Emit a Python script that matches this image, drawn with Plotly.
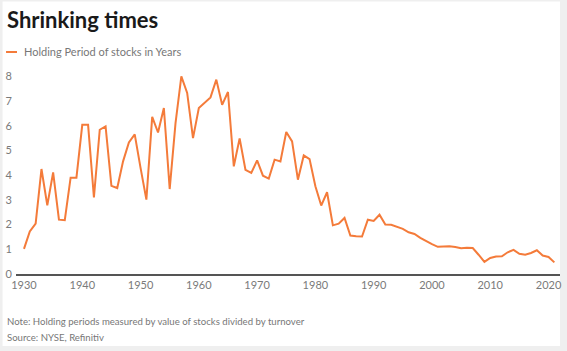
import plotly.graph_objects as go

years = list(range(1930, 2022))
holding_years = [
    1.02, 1.72, 2.04, 4.25, 2.78, 4.11, 2.20, 2.18, 3.90, 3.90,
    6.04, 6.04, 3.10, 5.84, 5.98, 3.57, 3.48, 4.56, 5.33, 5.65,
    4.30, 3.01, 6.36, 5.73, 6.72, 3.44, 6.11, 8.00, 7.33, 5.50,
    6.72, 6.92, 7.15, 7.87, 6.85, 7.37, 4.36, 5.49, 4.22, 4.09,
    4.60, 3.98, 3.86, 4.63, 4.56, 5.75, 5.37, 3.82, 4.80, 4.65,
    3.55, 2.77, 3.31, 1.97, 2.04, 2.27, 1.56, 1.53, 1.52, 2.20,
    2.15, 2.40, 2.00, 1.99, 1.90, 1.83, 1.69, 1.62, 1.46, 1.32,
    1.21, 1.10, 1.12, 1.12, 1.09, 1.04, 1.06, 1.05, 0.78, 0.49,
    0.65, 0.71, 0.72, 0.88, 0.98, 0.82, 0.78, 0.85, 0.96, 0.75,
    0.69, 0.47,
]
x_ticks = [1930, 1940, 1950, 1960, 1970, 1980, 1990, 2000, 2010, 2020]
y_ticks = [0, 1, 2, 3, 4, 5, 6, 7, 8]

title_text = "Shrinking times"
series_name = "Holding Period of stocks in Years"
note_text = "Note: Holding periods measured by value of stocks divided by turnover"
source_text = "Source: NYSE, Refinitiv"

ORANGE = "#F47B3A"
FONT = "Lato"

W, H = 567, 351
ML, MR, MT, MB = 16, 5, 69, 77
PW = W - ML - MR
PH = H - MT - MB

def px_x(px):
    return (px - ML) / PW

def px_y(py):
    return (H - MB - py) / PH

fig = go.Figure()
fig.add_trace(go.Scatter(
    x=years, y=holding_years, mode="lines", name=series_name,
    line=dict(color=ORANGE, width=2), showlegend=False,
))

fig.update_layout(
    width=W, height=H,
    margin=dict(l=ML, r=MR, t=MT, b=MB),
    paper_bgcolor="#efefef",
    plot_bgcolor="rgba(0,0,0,0)",
    font=dict(family=FONT, color="#6b6b6b", size=11),
    xaxis=dict(
        range=[1928.63, 2021.97], tickvals=x_ticks, ticktext=[str(t) for t in x_ticks],
        showgrid=False, zeroline=False, showline=True, linecolor="#555555", linewidth=1.5,
        ticks="", tickfont=dict(size=11, color="#7a7a7a"),
    ),
    yaxis=dict(
        range=[0, 8.3], tickvals=y_ticks, showgrid=False, zeroline=False,
        showline=False, ticks="", tickfont=dict(size=11, color="#7a7a7a"),
        ticklabelstandoff=3,
    ),
    shapes=[
        dict(type="rect", xref="paper", yref="paper",
             x0=px_x(2.5), x1=px_x(562), y0=px_y(346), y1=px_y(1.5),
             fillcolor="white", line=dict(width=0), layer="below"),
        dict(type="line", xref="paper", yref="paper",
             x0=px_x(6), x1=px_x(17), y0=px_y(52), y1=px_y(52),
             line=dict(color=ORANGE, width=2)),
    ],
    annotations=[
        dict(text="<b>" + title_text + "</b>", xref="paper", yref="paper",
             x=px_x(5), y=px_y(19), xanchor="left", yanchor="middle",
             showarrow=False, font=dict(family=FONT, size=22, color="#1a1a1a")),
        dict(text=series_name, xref="paper", yref="paper",
             x=px_x(22), y=px_y(52), xanchor="left", yanchor="middle",
             showarrow=False, font=dict(family=FONT, size=11, color="#777777")),
        dict(text=note_text, xref="paper", yref="paper",
             x=px_x(4.5), y=px_y(321), xanchor="left", yanchor="middle",
             showarrow=False, font=dict(family=FONT, size=9.6, color="#777777")),
        dict(text=source_text, xref="paper", yref="paper",
             x=px_x(4.5), y=px_y(337), xanchor="left", yanchor="middle",
             showarrow=False, font=dict(family=FONT, size=9.6, color="#777777")),
    ],
)

fig.write_html("out.html")
